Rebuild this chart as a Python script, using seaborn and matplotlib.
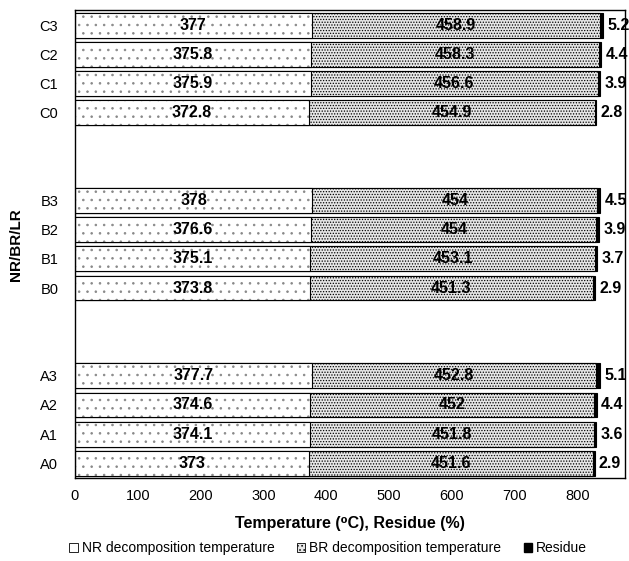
import pandas as pd
import numpy as np
import matplotlib
matplotlib.use("Agg")
import matplotlib.pyplot as plt
import seaborn as sns
from matplotlib.patches import Patch

# data (bottom to top)
samples = ["A0", "A1", "A2", "A3", "B0", "B1", "B2", "B3", "C0", "C1", "C2", "C3"]
nr_temp = [373, 374.1, 374.6, 377.7, 373.8, 375.1, 376.6, 378, 372.8, 375.9, 375.8, 377]
br_temp = [451.6, 451.8, 452, 452.8, 451.3, 453.1, 454, 454, 454.9, 456.6, 458.3, 458.9]
residue = [2.9, 3.6, 4.4, 5.1, 2.9, 3.7, 3.9, 4.5, 2.8, 3.9, 4.4, 5.2]

# top-to-bottom order with empty slots between groups
order = ["C3", "C2", "C1", "C0", "gap2", "gap2b", "B3", "B2", "B1", "B0", "gap1", "gap1b", "A3", "A2", "A1", "A0"]

df = pd.DataFrame({"sample": samples, "nr": nr_temp, "br": br_temp, "res": residue})
df["nr_br"] = df["nr"] + df["br"]
df["total"] = df["nr_br"] + df["res"]

sns.set_style("white")
plt.rcParams["font.family"] = ["Liberation Sans", "DejaVu Sans"]
plt.rcParams["text.color"] = "black"
plt.rcParams["axes.labelcolor"] = "black"
plt.rcParams["xtick.color"] = "black"
plt.rcParams["ytick.color"] = "black"
plt.rcParams["hatch.linewidth"] = 0.6

fig = plt.figure(figsize=(6.29, 5.61), dpi=100)
ax = fig.add_axes([0.1192, 0.148, 0.8744, 0.8333])

bw = 0.85
# residue (full stack), then BR, then NR on top
sns.barplot(data=df, x="total", y="sample", order=order, orient="h", ax=ax,
            color="black", edgecolor="black", linewidth=0.8, width=bw, errorbar=None)
plt.rcParams["hatch.color"] = "#555555"
sns.barplot(data=df, x="nr_br", y="sample", order=order, orient="h", ax=ax,
            color="#e6e6e6", edgecolor="black", linewidth=0.8, width=bw, errorbar=None,
            hatch="......")
n_before = len(ax.patches)
sns.barplot(data=df, x="nr", y="sample", order=order, orient="h", ax=ax,
            color="white", edgecolor="black", linewidth=0.8, width=bw, errorbar=None)
for p in ax.patches[n_before:]:
    p.set_hatch("..")
    p._hatch_color = matplotlib.colors.to_rgba("#888888")

pos = {s: i for i, s in enumerate(order)}
for _, r in df.iterrows():
    y = pos[r["sample"]]
    ax.text(r["nr"] / 2, y, f"{r['nr']:g}", ha="center", va="center",
            fontsize=11.5, fontweight="bold")
    ax.text(r["nr"] + r["br"] / 2, y, f"{r['br']:g}", ha="center", va="center",
            fontsize=11.5, fontweight="bold")
    ax.text(r["total"] + 7, y, f"{r['res']:g}", ha="left", va="center",
            fontsize=11.5, fontweight="bold", clip_on=False)

ax.set_xlim(0, 876)
ax.set_ylim(len(order) - 0.5, -0.5)
ax.set_xticks(range(0, 900, 100))
ax.set_yticks(range(len(order)))
ax.set_yticklabels([s if not s.startswith("gap") else "" for s in order])
ax.tick_params(axis="both", labelsize=10.5, length=0, pad=8)
ax.tick_params(axis="y", pad=12)
for sp in ax.spines.values():
    sp.set_color("black")
    sp.set_linewidth(1.0)

ax.set_xlabel("Temperature (⁰C), Residue (%)", fontsize=11.5, fontweight="bold", labelpad=9)
ax.set_ylabel("NR/BR/LR", fontsize=11, fontweight="bold", labelpad=12)

handles = [
    Patch(facecolor="white", edgecolor="black", linewidth=0.6, label="NR decomposition temperature"),
    Patch(facecolor="#e6e6e6", edgecolor="black", linewidth=0.6, hatch="....", label="BR decomposition temperature"),
    Patch(facecolor="black", edgecolor="black", label="Residue"),
]
fig.legend(handles=handles, loc="center", bbox_to_anchor=(0.522, 0.023), ncol=3, frameon=False,
           fontsize=10, handlelength=0.6, handleheight=0.6, handletextpad=0.3, columnspacing=1.6)

fig.savefig("out.png", dpi=100)
plt.close()
